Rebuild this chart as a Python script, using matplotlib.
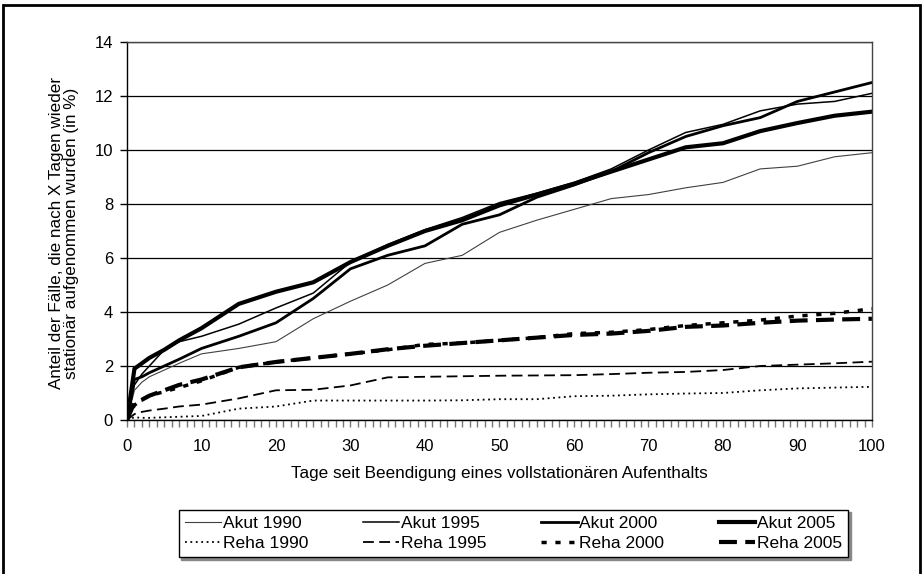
import matplotlib.pyplot as plt
from matplotlib.patches import Rectangle
from matplotlib.ticker import MultipleLocator

plt.rcParams['font.family'] = ['Liberation Sans', 'DejaVu Sans']

# Tage seit Entlassung (Stützstellen)
tage = [0, 1, 2, 3, 5, 7, 10, 15, 20, 25, 30, 35, 40, 45, 50, 55, 60, 65, 70, 75, 80, 85, 90, 95, 100]

akut_1990 = [0, 1.1, 1.4, 1.6, 1.85, 2.1, 2.45, 2.65, 2.9, 3.75, 4.4, 5.0, 5.8, 6.1, 6.95, 7.4, 7.8, 8.2, 8.35, 8.6, 8.8, 9.3, 9.4, 9.75, 9.9]
akut_1995 = [0, 1.3, 1.7, 2.0, 2.6, 2.9, 3.1, 3.55, 4.15, 4.7, 5.85, 6.5, 7.05, 7.5, 8.05, 8.4, 8.8, 9.3, 10.0, 10.65, 10.95, 11.45, 11.7, 11.8, 12.1]
akut_2000 = [0, 1.5, 1.6, 1.75, 2.0, 2.25, 2.65, 3.1, 3.6, 4.5, 5.6, 6.1, 6.45, 7.25, 7.6, 8.25, 8.7, 9.2, 9.9, 10.5, 10.9, 11.2, 11.8, 12.15, 12.5]
akut_2005 = [0, 1.9, 2.1, 2.3, 2.6, 2.95, 3.4, 4.3, 4.75, 5.1, 5.85, 6.45, 7.0, 7.4, 7.95, 8.35, 8.75, 9.2, 9.65, 10.1, 10.25, 10.7, 11.0, 11.27, 11.42]
reha_1990 = [0, 0.1, 0.08, 0.08, 0.1, 0.12, 0.15, 0.42, 0.5, 0.72, 0.72, 0.72, 0.72, 0.73, 0.77, 0.77, 0.88, 0.9, 0.95, 0.98, 1.0, 1.1, 1.17, 1.2, 1.23]
reha_1995 = [0, 0.22, 0.3, 0.35, 0.42, 0.5, 0.57, 0.8, 1.1, 1.12, 1.28, 1.58, 1.6, 1.62, 1.64, 1.65, 1.66, 1.7, 1.75, 1.78, 1.85, 2.0, 2.05, 2.1, 2.16]
reha_2000 = [0, 0.55, 0.75, 0.9, 1.05, 1.2, 1.45, 1.95, 2.15, 2.3, 2.45, 2.6, 2.8, 2.85, 2.95, 3.05, 3.2, 3.25, 3.35, 3.5, 3.6, 3.7, 3.85, 3.95, 4.12]
reha_2005 = [0, 0.65, 0.75, 0.9, 1.1, 1.3, 1.5, 1.95, 2.15, 2.3, 2.45, 2.62, 2.75, 2.85, 2.95, 3.05, 3.15, 3.2, 3.3, 3.45, 3.5, 3.6, 3.68, 3.72, 3.75]

fig = plt.figure(figsize=(9.23, 5.74), dpi=100)
ax = fig.add_axes([0.1376, 0.2683, 0.8071, 0.6585])

# Akut-Linien
ax.plot(tage, akut_1990, color="#404040", lw=0.8, label="Akut 1990")
ax.plot(tage, akut_1995, color="black", lw=1.1, label="Akut 1995")
ax.plot(tage, akut_2000, color="black", lw=2.0, label="Akut 2000")
ax.plot(tage, akut_2005, color="black", lw=3.0, label="Akut 2005")

# Reha-Linien
ax.plot(tage, reha_1990, color="black", lw=1.3, linestyle=(0, (1, 2)), label="Reha 1990")
ax.plot(tage, reha_1995, color="black", lw=1.3, linestyle=(0, (6, 3)), label="Reha 1995")
ax.plot(tage, reha_2000, color="black", lw=2.5, linestyle=(0, (1.5, 2.5)), label="Reha 2000")
ax.plot(tage, reha_2005, color="black", lw=3.0, linestyle=(0, (4.3, 2)), label="Reha 2005")

ax.set_xlim(0, 100)
ax.set_ylim(0, 14)
ax.xaxis.set_major_locator(MultipleLocator(10))
ax.xaxis.set_minor_locator(MultipleLocator(1))
ax.yaxis.set_major_locator(MultipleLocator(2))
ax.grid(axis="y", color="black", lw=0.9)
ax.set_axisbelow(True)
ax.tick_params(axis="x", which="both", direction="out", length=5, width=1, color="#777777", labelsize=12, pad=9)
ax.tick_params(axis="y", direction="out", length=5, width=1, color="black", labelsize=12, pad=5)
for s in ax.spines.values():
    s.set_color("black")
    s.set_linewidth(1.0)
ax.spines["top"].set_color("#444444")
ax.spines["right"].set_color("#444444")

ax.set_xlabel("Tage seit Beendigung eines vollstationären Aufenthalts", fontsize=12.3, labelpad=8)
# y-Beschriftung als freier Text, eng zeilig wie im Original
fig.text(64 / 923, 1 - 233 / 574,
         "Anteil der Fälle, die nach X Tagen wieder\nstationär aufgenommen wurden (in %)",
         rotation=90, ha="center", va="center", multialignment="center",
         fontsize=12.3, linespacing=0.97)

# Legende: zweizeilig, spaltenweise gefüllt, auf Kastenbreite gestreckt
h, l = ax.get_legend_handles_labels()
order = [0, 4, 1, 5, 2, 6, 3, 7]
leg = fig.legend([h[i] for i in order], [l[i] for i in order], ncol=4,
                 loc="center", mode="expand",
                 bbox_to_anchor=(0.1842, 0.0261, 0.7443, 0.0889), fontsize=12.5,
                 frameon=True, fancybox=False, shadow={"color": "#888888", "alpha": 1},
                 handlelength=2.1, handletextpad=0.1,
                 labelspacing=0.3, borderpad=0.35)
leg.get_frame().set_edgecolor("black")
leg.get_frame().set_linewidth(1.0)

# äußerer Rahmen
fig.patches.append(Rectangle((0.0033, -0.02), 0.9934, 1.0113, transform=fig.transFigure,
                             fill=False, edgecolor="black", lw=2.0))

plt.savefig("out.png", dpi=100)
